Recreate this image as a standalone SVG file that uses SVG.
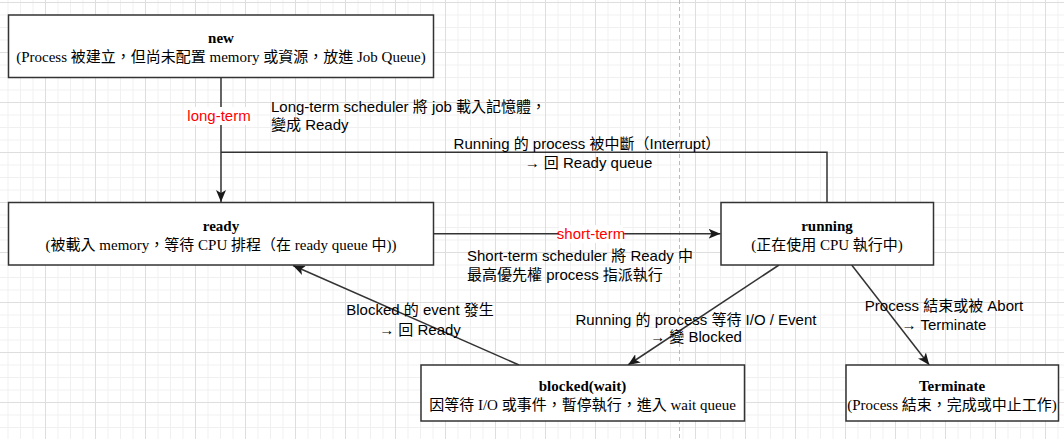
<svg xmlns="http://www.w3.org/2000/svg" width="1064" height="439" viewBox="0 0 1064 439">
<style>
.node rect{fill:#fff;stroke:#333;stroke-width:1.5}
.nt{font-family:"Liberation Serif","Noto Sans CJK TC",serif;font-size:15px;fill:#000;text-anchor:middle}
.nt .b{font-weight:bold}
.lbl{font-family:"Liberation Sans","Noto Sans CJK TC",sans-serif;font-size:15px;fill:#000}
.red{fill:#ff0000;text-anchor:middle}
.edge{fill:none;stroke:#333;stroke-width:1.5}
</style>
<defs>
<pattern id="minor" patternUnits="userSpaceOnUse" x="7.5" y="2" width="12.5" height="12.5">
<path d="M0,0.5 H12.5 M0.5,0 V12.5" stroke="#f0f0f0" stroke-width="1" fill="none"/>
</pattern>
<pattern id="major" patternUnits="userSpaceOnUse" x="45" y="2" width="50" height="50">
<path d="M0,0.5 H50 M0.5,0 V50" stroke="#dedede" stroke-width="1" fill="none"/>
</pattern>
<marker id="arr" markerUnits="userSpaceOnUse" viewBox="0 0 12 10" refX="12" refY="5" markerWidth="12" markerHeight="10" orient="auto">
<path d="M0,0 L12,5 L0,10 L3,5 z" fill="#1a1a1a"/>
</marker>
</defs>
<rect width="1064" height="439" fill="#fff"/>
<rect width="1064" height="439" fill="url(#minor)"/>
<rect width="1064" height="439" fill="url(#major)"/>
<line x1="679.5" y1="0" x2="679.5" y2="439" stroke="#bbb" stroke-width="1" stroke-dasharray="4,3"/>

<g id="connectors">
<path class="edge" d="M221,77.5 V202" marker-end="url(#arr)"/>
<path class="edge" d="M827,202.5 V152.3 H221"/>
<path class="edge" d="M433.5,233.75 H720.5" marker-end="url(#arr)"/>
<path class="edge" d="M779,265 L628,365" marker-end="url(#arr)"/>
<path class="edge" d="M519,365 L293,265.5" marker-end="url(#arr)"/>
<path class="edge" d="M851.7,265 L929.3,365" marker-end="url(#arr)"/>
<rect x="187" y="107" width="66" height="18" fill="#fff"/>
<text class="lbl red" x="219" y="121">long-term</text>
<rect x="559" y="225" width="64" height="18" fill="#fff"/>
<text class="lbl red" x="591" y="238.5">short-term</text>
<text class="lbl" x="271" y="112">Long-term scheduler 將 job 載入記憶體，</text>
<text class="lbl" x="271" y="130">變成 Ready</text>
<text class="lbl" text-anchor="middle" x="587" y="149">Running 的 process 被中斷（Interrupt）</text>
<text class="lbl" text-anchor="middle" x="588.5" y="167.5">→ 回 Ready queue</text>
<text class="lbl" x="467" y="261">Short-term scheduler 將 Ready 中</text>
<text class="lbl" x="467" y="280">最高優先權 process 指派執行</text>
<text class="lbl" text-anchor="middle" x="420" y="315">Blocked 的 event 發生</text>
<text class="lbl" text-anchor="middle" x="420" y="334.5">→ 回 Ready</text>
<text class="lbl" text-anchor="middle" x="696" y="324.5">Running 的 process 等待 I/O / Event</text>
<text class="lbl" text-anchor="middle" x="696" y="342">→ 變 Blocked</text>
<text class="lbl" text-anchor="middle" x="944" y="311">Process 結束或被 Abort</text>
<text class="lbl" text-anchor="middle" x="944" y="329.5">→ Terminate</text>
</g>

<g id="new" class="node">
<rect x="8.5" y="15" width="425" height="62.5"/>
<text class="nt" x="221" y="42.5"><tspan class="b">new</tspan></text>
<text class="nt" x="221" y="62">(Process 被建立，但尚未配置 memory 或資源，放進 Job Queue)</text>
</g>
<g id="ready" class="node">
<rect x="8.5" y="202.5" width="425" height="62.5"/>
<text class="nt" x="221" y="231"><tspan class="b">ready</tspan></text>
<text class="nt" x="221" y="249.5">(被載入 memory，等待 CPU 排程（在 ready queue 中))</text>
</g>
<g id="running" class="node">
<rect x="721" y="202.5" width="212.5" height="62.5"/>
<text class="nt" x="827" y="231"><tspan class="b">running</tspan></text>
<text class="nt" x="827" y="249.5">(正在使用 CPU 執行中)</text>
</g>
<g id="blocked" class="node">
<rect x="421" y="365" width="323.5" height="56"/>
<text class="nt" x="582.5" y="391"><tspan class="b">blocked(wait)</tspan></text>
<text class="nt" x="582.5" y="409.5">因等待 I/O 或事件，暫停執行，進入 wait queue</text>
</g>
<g id="terminate" class="node">
<rect x="846" y="365" width="212.5" height="56"/>
<text class="nt" x="952" y="390.5"><tspan class="b">Terminate</tspan></text>
<text class="nt" x="952" y="409.5">(Process 結束，完成或中止工作)</text>
</g>
</svg>
